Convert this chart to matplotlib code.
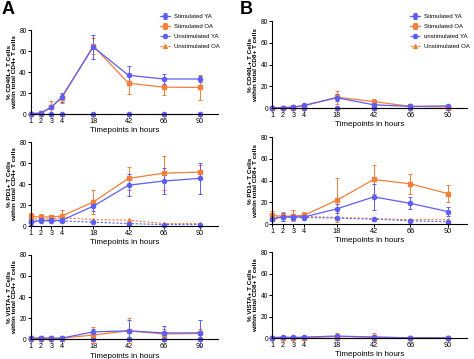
import numpy as np
import matplotlib
matplotlib.use('Agg')
import matplotlib.pyplot as plt

# timepoints (hours) and their position on the broken Prism-style axis
hours = [1, 2, 3, 4, 18, 42, 66, 90]
hour_pos = [1, 2, 3, 4, 7.1, 10.55, 14.0, 17.5]

# --- A: CD4+ ---
cd40l_cd4_stim_ya = [0.5, 1.0, 6.5, 16, 64, 37, 33.5, 33.5]
cd40l_cd4_stim_ya_err = [0.3, 0.5, 2, 4, 11, 9, 4.5, 2.5]
cd40l_cd4_stim_oa = [0.5, 1.0, 7, 15, 65, 29.5, 25.7, 25.5]
cd40l_cd4_stim_oa_err = [0.3, 0.5, 6, 4, 8, 10, 7.5, 12]
cd40l_cd4_unst_ya = [0.3, 0.3, 0.3, 0.3, 0.3, 0.3, 0.3, 0.3]
cd40l_cd4_unst_oa = [0.3, 0.3, 0.3, 0.3, 0.3, 0.3, 0.3, 0.3]

pd1_cd4_stim_ya = [3.5, 5.5, 5.5, 5.5, 19, 39, 43, 45.5]
pd1_cd4_stim_ya_err = [2, 2, 2, 2, 4.5, 10.5, 12, 15]
pd1_cd4_stim_oa = [9.5, 8.5, 9, 9.5, 23, 45.5, 50.5, 51.5]
pd1_cd4_stim_oa_err = [3, 3, 2, 6, 11.5, 11, 16, 7]
pd1_cd4_unst_ya = [5, 5, 5, 5, 3.8, 2.5, 1.5, 1.5]
pd1_cd4_unst_oa = [7, 7, 7, 8, 6.3, 5.7, 2.5, 2.5]

vista_cd4_stim_ya = [1, 1.2, 1, 1, 7, 8, 6, 6]
vista_cd4_stim_ya_err = [0.5, 0.8, 0.5, 0.5, 3, 10, 7, 12]
vista_cd4_stim_oa = [0.8, 1, 1, 1, 4, 8, 5, 5.5]
vista_cd4_stim_oa_err = [0.5, 0.5, 0.5, 2, 8, 12, 5, 4]
vista_cd4_unst_ya = [0.4, 0.4, 0.4, 0.4, 0.4, 0.4, 0.4, 0.4]
vista_cd4_unst_oa = [0.4, 0.4, 0.4, 0.4, 0.4, 0.4, 0.4, 0.4]

# --- B: CD8+ ---
cd40l_cd8_stim_ya = [0.3, 0.3, 0.8, 2.5, 9.5, 3, 1.5, 2]
cd40l_cd8_stim_ya_err = [0.2, 0.2, 0.5, 1, 3, 2, 0.5, 0.5]
cd40l_cd8_stim_oa = [0.3, 0.3, 1, 2, 10, 6, 1.5, 1]
cd40l_cd8_stim_oa_err = [0.2, 0.2, 0.5, 1, 6, 2.5, 1, 0.5]
cd40l_cd8_unst_ya = [0.3, 0.3, 0.3, 0.3, 0.3, 0.3, 0.3, 0.3]
cd40l_cd8_unst_oa = [0.3, 0.3, 0.3, 0.3, 0.3, 0.3, 0.3, 0.3]

pd1_cd8_stim_ya = [4.5, 6.5, 6.5, 6.5, 14, 25, 19, 11.5]
pd1_cd8_stim_ya_err = [2, 4, 3, 2, 4, 12, 5.5, 4]
pd1_cd8_stim_oa = [8, 7, 7.5, 8, 22, 41, 37, 28]
pd1_cd8_stim_oa_err = [4, 4, 5, 3, 20.5, 13.5, 9, 8]
pd1_cd8_unst_ya = [5, 6.5, 6, 6, 5.5, 4.5, 3, 2]
pd1_cd8_unst_oa = [6, 7, 7, 7, 6, 5, 4, 4]

vista_cd8_stim_ya = [0.5, 1, 0.7, 1, 2, 1, 0.3, 0.3]
vista_cd8_stim_ya_err = [0.3, 0.5, 0.3, 0.5, 1, 0.5, 0.2, 0.2]
vista_cd8_stim_oa = [0.3, 0.5, 0.5, 0.5, 1.5, 1.0, 0.3, 0.3]
vista_cd8_stim_oa_err = [0.2, 0.3, 0.3, 0.3, 3.5, 4, 0.2, 0.2]
vista_cd8_unst_ya = [0.3, 0.3, 0.3, 0.3, 0.3, 0.3, 0.3, 0.3]
vista_cd8_unst_oa = [0.3, 0.3, 0.3, 0.3, 0.3, 0.3, 0.3, 0.3]

legend_a = ['Stimulated YA', 'Stimulated OA', 'Unstimulated YA', 'Unstimulated OA']
legend_b = ['Stimulated YA', 'Stimulated OA', 'unstimulated YA', 'Unstimulated OA']

BLUE = '#5e5ef2'
ORANGE = '#f28038'

plt.rcParams['font.family'] = ['Liberation Sans', 'DejaVu Sans']
fig = plt.figure(figsize=(4.74, 3.59), dpi=100)

# axes rectangles [left, bottom, width, height] in figure fraction
rects = {
    'A1': [0.065, 0.682, 0.395, 0.234],
    'A2': [0.065, 0.370, 0.395, 0.234],
    'A3': [0.065, 0.055, 0.395, 0.235],
    'B1': [0.574, 0.699, 0.411, 0.242],
    'B2': [0.574, 0.376, 0.411, 0.242],
    'B3': [0.574, 0.058, 0.411, 0.240],
}

panels = [
    ('A1', '% CD40L+ T Cells\nwithin total CD4+ T cells',
     cd40l_cd4_stim_ya, cd40l_cd4_stim_ya_err, cd40l_cd4_stim_oa, cd40l_cd4_stim_oa_err,
     cd40l_cd4_unst_ya, cd40l_cd4_unst_oa),
    ('A2', '% PD1+ T Cells\nwithin total CD4+ T cells',
     pd1_cd4_stim_ya, pd1_cd4_stim_ya_err, pd1_cd4_stim_oa, pd1_cd4_stim_oa_err,
     pd1_cd4_unst_ya, pd1_cd4_unst_oa),
    ('A3', '% VISTA+ T Cells\nwithin total CD4+ T cells',
     vista_cd4_stim_ya, vista_cd4_stim_ya_err, vista_cd4_stim_oa, vista_cd4_stim_oa_err,
     vista_cd4_unst_ya, vista_cd4_unst_oa),
    ('B1', '% CD40L+ T Cells\nwithin total CD8+ T cells',
     cd40l_cd8_stim_ya, cd40l_cd8_stim_ya_err, cd40l_cd8_stim_oa, cd40l_cd8_stim_oa_err,
     cd40l_cd8_unst_ya, cd40l_cd8_unst_oa),
    ('B2', '% PD1+ T Cells\nwithin total CD8+ T cells',
     pd1_cd8_stim_ya, pd1_cd8_stim_ya_err, pd1_cd8_stim_oa, pd1_cd8_stim_oa_err,
     pd1_cd8_unst_ya, pd1_cd8_unst_oa),
    ('B3', '% VISTA+ T Cells\nwithin total CD8+ T cells',
     vista_cd8_stim_ya, vista_cd8_stim_ya_err, vista_cd8_stim_oa, vista_cd8_stim_oa_err,
     vista_cd8_unst_ya, vista_cd8_unst_oa),
]

err_kw = dict(elinewidth=0.7, capsize=1.5, capthick=0.7, clip_on=False)

for key, ylab, s_ya, s_ya_e, s_oa, s_oa_e, u_ya, u_oa in panels:
    ax = fig.add_axes(rects[key])
    h1 = ax.errorbar(hour_pos, s_oa, yerr=s_oa_e, color=ORANGE, marker='s', ms=2.6,
                     lw=0.9, **err_kw)
    h0 = ax.errorbar(hour_pos, s_ya, yerr=s_ya_e, color=BLUE, marker='o', ms=3.0,
                     lw=0.9, **err_kw)
    h3, = ax.plot(hour_pos, u_oa, color=ORANGE, marker='^', ms=2.8, lw=0.8,
                  ls=(0, (2, 1.5)), clip_on=False)
    h2, = ax.plot(hour_pos, u_ya, color=BLUE, marker='o', ms=3.0, lw=0.8,
                  ls=(0, (2, 1.5)), clip_on=False)

    ax.set_xlim(1, 19.3)
    ax.set_ylim(0, 80)
    ax.set_yticks([0, 20, 40, 60, 80])
    ax.set_xticks(hour_pos)
    ax.set_xticklabels([str(h) for h in hours])
    ax.spines['top'].set_visible(False)
    ax.spines['right'].set_visible(False)
    for s in ('left', 'bottom'):
        ax.spines[s].set_linewidth(0.8)
    ax.tick_params(axis='both', labelsize=4.8, length=2, width=0.7, pad=1)
    ax.tick_params(axis='x', labelsize=5.2)
    ax.set_ylabel(ylab, fontsize=4.6, fontweight='bold', labelpad=1.5, linespacing=1.0)
    ax.set_xlabel('Timepoints in hours', fontsize=5.8, labelpad=1.5)

    if key in ('A1', 'B1'):
        labels = legend_a if key == 'A1' else legend_b
        anchor = (0.335, 0.965) if key == 'A1' else (0.862, 0.965)
        fig.legend([h0, h1, h2, h3], labels, loc='upper left',
                   bbox_to_anchor=anchor, fontsize=4.3, frameon=False,
                   handlelength=1.7, handletextpad=0.6, labelspacing=0.8,
                   borderpad=0.2, borderaxespad=0)

fig.text(0.004, 0.998, 'A', fontsize=13, fontweight='bold', va='top', ha='left')
fig.text(0.505, 0.998, 'B', fontsize=13, fontweight='bold', va='top', ha='left')

fig.savefig('out.png', dpi=100)
